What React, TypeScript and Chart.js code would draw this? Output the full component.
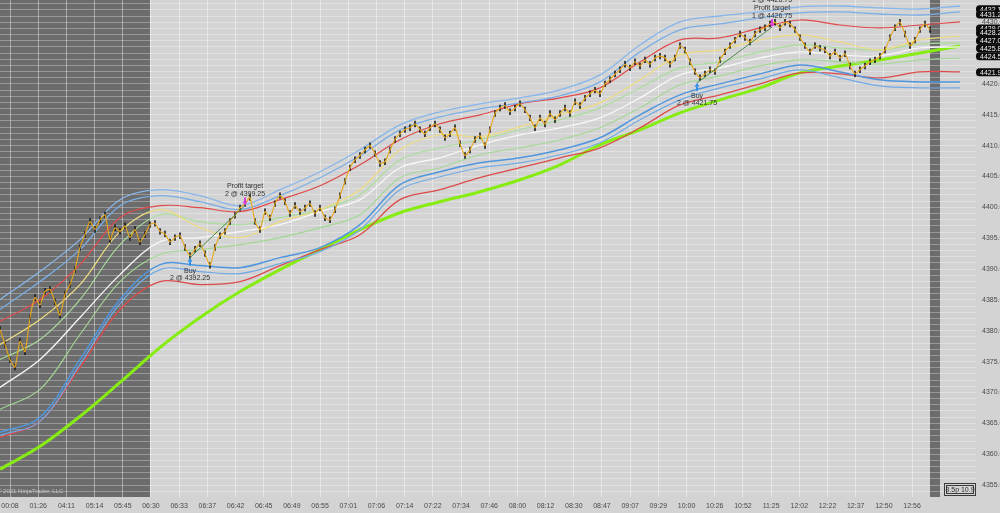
import React, { useEffect, useRef } from 'react';
import { Chart, registerables } from 'chart.js';
Chart.register(...registerables);

const TIME_LABELS = ['00:08','01:26','04:11','05:14','05:45','06:30','06:33','06:37','06:42','06:45','06:49','06:55','07:01','07:06','07:14','07:22','07:34','07:46','08:00','08:12','08:30','08:47','09:07','09:29','10:00','10:26','10:52','11:25','12:02','12:22','12:37','12:50','12:56'];
const FIRST_TICK_BAR = 2;
const BARS_PER_TICK = 5.638;

const PRICE = [
  4380.2,4377.8,4375.3,4374.1,4378.3,4376.6,4382.1,4385.4,4384.2,4386.4,
  4386.7,4384.7,4382.5,4385.9,4387.5,4389.9,4393.5,4395.6,4397.7,4396.4,
  4398.0,4398.8,4394.8,4396.7,4396.1,4397.0,4395.1,4396.4,4394.4,4395.6,
  4397.2,4397.4,4396.1,4395.7,4394.4,4395.1,4395.4,4393.5,4392.2,4393.2,
  4394.1,4392.5,4390.6,4393.5,4395.4,4396.1,4397.7,4398.7,4399.9,4400.6,
  4401.6,4397.7,4396.4,4399.3,4398.3,4400.6,4401.9,4400.9,4399.0,4400.3,
  4399.3,4399.9,4400.6,4399.0,4399.9,4398.3,4398.0,4399.6,4401.9,4404.2,
  4406.4,4407.7,4408.4,4409.3,4410.0,4408.7,4407.1,4407.4,4409.3,4411.0,
  4411.9,4412.6,4412.9,4413.5,4412.6,4411.9,4412.9,4413.5,4412.6,4411.3,
  4411.9,4412.9,4410.3,4408.4,4409.3,4411.0,4411.6,4410.0,4412.6,4415.2,
  4416.1,4416.5,4415.5,4416.1,4416.8,4415.8,4414.5,4412.9,4414.5,4413.5,
  4415.2,4414.2,4415.2,4416.1,4415.2,4417.1,4416.5,4417.7,4418.4,4419.0,
  4418.4,4420.0,4420.7,4421.6,4422.3,4423.2,4422.6,4423.6,4422.9,4423.9,
  4423.2,4424.2,4424.5,4424.2,4423.2,4424.2,4426.2,4425.5,4423.6,4422.0,
  4421.0,4421.6,4422.3,4422.0,4423.9,4425.2,4426.2,4427.1,4428.1,4427.5,
  4426.8,4428.1,4428.8,4429.1,4429.7,4430.0,4429.1,4430.0,4429.7,4428.8,
  4427.5,4426.2,4425.2,4426.2,4425.8,4425.5,4424.5,4425.2,4424.2,4424.9,
  4422.9,4421.6,4422.3,4422.9,4423.6,4423.9,4424.5,4425.5,4427.5,4429.1,
  4430.0,4428.1,4426.2,4427.1,4428.8,4429.7,4428.8
];

const BAND_STEP = 8;
const UPPER_BLUE_1 = [4385.06,4389.59,4394.77,4401.24,4402.86,4401.89,4400.27,4402.86,4405.77,4409.33,4413.37,4415.48,4416.77,4417.74,4419.04,4421.46,4426.32,4430.04,4431.01,4431.66,4432.47,4432.63,4432.31,4432.14,4432.63];
const UPPER_BLUE_2 = [4383.44,4387.97,4393.15,4400.27,4401.89,4400.91,4399.62,4401.89,4404.80,4408.36,4412.56,4414.67,4415.96,4416.93,4418.07,4420.33,4425.19,4428.75,4429.72,4430.69,4431.50,4431.66,4431.33,4431.17,4431.66];
const UPPER_RED = [4381.50,4385.06,4390.72,4398.33,4400.27,4399.94,4399.30,4401.24,4403.50,4406.90,4410.95,4413.54,4414.99,4416.77,4417.74,4419.36,4423.57,4427.13,4427.45,4429.07,4430.36,4429.55,4429.07,4429.55,4430.04];
const YELLOW_MA = [4377.78,4381.82,4387.48,4396.06,4399.62,4396.71,4395.09,4397.68,4399.62,4402.86,4409.33,4411.76,4411.43,4413.05,4414.99,4416.93,4420.66,4424.70,4425.51,4427.13,4427.94,4426.80,4425.51,4427.13,4427.77];
const UPPER_GREEN = [4375.35,4378.58,4385.06,4393.96,4398.81,4397.68,4397.19,4398.33,4399.62,4402.05,4407.71,4409.65,4410.95,4412.56,4414.18,4416.12,4419.36,4422.60,4423.57,4425.19,4426.32,4425.83,4425.51,4426.48,4426.64];
const WHITE_MA = [4370.82,4375.35,4382.14,4389.10,4394.44,4395.09,4396.06,4397.19,4399.30,4401.24,4406.42,4408.03,4410.14,4411.76,4412.89,4414.51,4417.74,4421.46,4422.60,4424.21,4425.19,4424.70,4424.54,4425.83,4425.99];
const LOWER_GREEN = [4367.26,4370.49,4379.39,4387.97,4392.34,4393.15,4393.96,4395.09,4396.71,4398.81,4404.80,4406.42,4408.52,4409.65,4410.95,4412.89,4416.12,4419.85,4421.30,4422.92,4423.89,4423.57,4423.24,4423.89,4424.21];
const LOWER_BLUE_1 = [4363.54,4365.96,4375.35,4385.06,4390.72,4390.56,4390.23,4391.85,4393.47,4397.19,4403.67,4405.77,4407.22,4408.03,4409.33,4411.27,4414.99,4418.23,4420.01,4421.63,4423.08,4421.95,4420.66,4420.33,4420.33];
const LOWER_BLUE_2 = [4363.05,4365.32,4374.54,4384.41,4389.91,4389.59,4389.26,4390.88,4392.82,4396.38,4402.86,4404.96,4406.42,4407.22,4408.52,4410.46,4414.18,4417.42,4419.36,4420.82,4422.28,4420.98,4419.68,4419.36,4419.36];
const LOWER_RED = [4362.73,4365.32,4374.05,4383.44,4387.97,4387.48,4387.97,4390.56,4393.15,4395.57,4401.24,4402.86,4404.80,4406.42,4408.03,4409.65,4412.89,4416.59,4418.23,4420.01,4421.79,4421.63,4420.98,4421.95,4421.95];
const SLOW_MA = [4357.55,4361.27,4366.13,4371.63,4377.29,4382.14,4386.35,4389.91,4393.15,4396.38,4399.13,4400.91,4402.53,4404.47,4406.90,4410.14,4412.56,4415.32,4417.42,4419.36,4421.79,4422.92,4423.89,4425.02,4426.16];

const SESSION_GAPS = [[0, 30], [186, 188]];
const X_MAX = 195.2;
const Y_MIN = 4353.06;
const Y_MAX = 4433.6;

const TRADE_BARS = [38, 49, 139.4, 154.4];
const TRADE_MARK_PRICES = [4391.85, 4400.3, 4420.17, 4429.2];
const TRADE_KINDS = ['buy', 'target', 'buy', 'target'];
const TRADE_TEXTS = [
  ['Buy', '2 @ 4392.25'],
  ['Profit target', '2 @ 4399.25'],
  ['Buy', '2 @ 4421.75'],
  ['1 @ 4426.75', 'Profit target', '1 @ 4426.75'],
];

const TAG_VALUES = [4432.10, 4431.25, 4429.00, 4428.25, 4427.00, 4425.80, 4424.50, 4421.90];

const FONT = '"Liberation Sans", Arial, sans-serif';

const bandData = (arr: number[]) => arr.map((v, i) => ({ x: i * BAND_STEP, y: v }));

function line(label: string, arr: number[], color: string, width: number, order: number) {
  return {
    label,
    data: bandData(arr),
    borderColor: color,
    borderWidth: width,
    pointRadius: 0,
    tension: 0.35,
    fill: false,
    order,
  };
}

const bgPlugin = {
  id: 'bgPlugin',
  beforeDraw(chart: any) {
    const { ctx, chartArea: ca, scales } = chart;
    const x = scales.x;
    ctx.save();
    ctx.fillStyle = '#d3d3d3';
    ctx.fillRect(0, 0, chart.width, chart.height);
    ctx.fillStyle = '#6c6c6c';
    SESSION_GAPS.forEach(([a, b]) => {
      const x0 = Math.max(ca.left, x.getPixelForValue(a));
      const x1 = Math.min(ca.right, x.getPixelForValue(b));
      ctx.fillRect(x0, ca.top, x1 - x0, ca.bottom - ca.top);
    });
    ctx.restore();
  },
};

const annotationPlugin = {
  id: 'annotationPlugin',
  afterDatasetsDraw(chart: any) {
    const { ctx, scales } = chart;
    const x = scales.x, y = scales.y;
    ctx.save();
    ctx.strokeStyle = '#4f8a4f';
    ctx.lineWidth = 1;
    for (let i = 0; i + 1 < TRADE_BARS.length; i += 2) {
      ctx.beginPath();
      ctx.moveTo(x.getPixelForValue(TRADE_BARS[i]), y.getPixelForValue(TRADE_MARK_PRICES[i]));
      ctx.lineTo(x.getPixelForValue(TRADE_BARS[i + 1]), y.getPixelForValue(TRADE_MARK_PRICES[i + 1]));
      ctx.stroke();
    }
    ctx.font = `7px ${FONT}`;
    ctx.textAlign = 'center';
    ctx.textBaseline = 'middle';
    TRADE_BARS.forEach((bar, i) => {
      const px = x.getPixelForValue(bar);
      const py = y.getPixelForValue(TRADE_MARK_PRICES[i]);
      const kind = TRADE_KINDS[i];
      const texts = TRADE_TEXTS[i];
      if (kind === 'buy') {
        ctx.fillStyle = '#2f8fe8';
        ctx.beginPath();
        ctx.moveTo(px, py);
        ctx.lineTo(px - 2.5, py + 4);
        ctx.lineTo(px + 2.5, py + 4);
        ctx.closePath();
        ctx.fill();
        ctx.fillRect(px - 1, py + 4, 2, 4);
        ctx.fillStyle = '#333';
        texts.forEach((t, k) => ctx.fillText(t, px, py + 13 + k * 7.5));
      } else {
        ctx.fillStyle = '#e23ce0';
        ctx.beginPath();
        ctx.moveTo(px, py);
        ctx.lineTo(px - 2.5, py - 4);
        ctx.lineTo(px + 2.5, py - 4);
        ctx.closePath();
        ctx.fill();
        ctx.fillRect(px - 1, py - 8, 2, 4);
        ctx.fillStyle = '#333';
        const n = texts.length;
        texts.forEach((t, k) => ctx.fillText(t, px, py - 11 - (n - 1 - k) * 8));
      }
    });
    ctx.restore();
  },
  afterDraw(chart: any) {
    const { ctx, scales, chartArea: ca } = chart;
    const y = scales.y;
    ctx.save();
    ctx.font = `7px ${FONT}`;
    ctx.textBaseline = 'middle';
    ctx.textAlign = 'left';
    TAG_VALUES.forEach((v) => {
      const py = y.getPixelForValue(v);
      ctx.fillStyle = '#0d0d0d';
      ctx.beginPath();
      (ctx as any).roundRect(ca.right, py - 4, 40, 8, 3.5);
      ctx.fill();
      ctx.fillStyle = '#f0f0f0';
      ctx.fillText(v.toFixed(2), ca.right + 4, py + 0.5);
    });
    ctx.fillStyle = '#c4c4c4';
    ctx.font = `6px ${FONT}`;
    ctx.fillText('© 2021 NinjaTrader, LLC', ca.left - 3, ca.bottom - 6);
    ctx.strokeStyle = '#3a3a3a';
    ctx.lineWidth = 1;
    ctx.strokeRect(944.5, ca.bottom - 13.5, 31, 12);
    ctx.strokeRect(946.5, ca.bottom - 11.5, 27, 8);
    ctx.fillStyle = '#333';
    ctx.font = `7px ${FONT}`;
    ctx.textAlign = 'center';
    ctx.fillText('8.5p 10.9', 960, ca.bottom - 7);
    ctx.restore();
  },
};

export default function App() {
  const ref = useRef<HTMLCanvasElement>(null);
  useEffect(() => {
    document.body.style.margin = '0';
    const canvas = ref.current;
    if (!canvas) return;
    const priceData = PRICE.map((v, i) => ({ x: i, y: v }));
    const chart = new Chart(canvas, {
      type: 'line',
      data: {
        datasets: [
          {
            label: 'Fast',
            data: priceData,
            borderColor: '#e8a81a',
            borderWidth: 1.1,
            pointRadius: 0,
            tension: 0.2,
            order: 0,
          },
          {
            label: 'Price',
            data: priceData,
            showLine: false,
            pointStyle: 'line',
            pointRotation: 90,
            pointRadius: 3.2,
            pointBorderWidth: 1.6,
            pointBorderColor: '#1c1c1c',
            pointBackgroundColor: '#1c1c1c',
            order: 1,
          },
          line('Upper blue 1', UPPER_BLUE_1, '#86b6ea', 1.3, 2),
          line('Upper blue 2', UPPER_BLUE_2, '#7aaee6', 1.3, 3),
          line('Upper red', UPPER_RED, '#e04a4a', 1.2, 4),
          line('Yellow', YELLOW_MA, '#eedc80', 1.2, 5),
          line('Upper green', UPPER_GREEN, '#a9de9a', 1.1, 6),
          line('White', WHITE_MA, '#f7f7f7', 1.3, 7),
          line('Lower green', LOWER_GREEN, '#a3d894', 1.1, 8),
          line('Lower blue 1', LOWER_BLUE_1, '#5096df', 1.5, 9),
          line('Lower blue 2', LOWER_BLUE_2, '#72aae6', 1.2, 10),
          line('Lower red', LOWER_RED, '#dc4a4a', 1.3, 11),
          line('Slow', SLOW_MA, '#86ec12', 3, 12),
        ] as any,
      },
      options: {
        animation: false,
        responsive: false,
        devicePixelRatio: 1,
        events: [],
        layout: { padding: 0, autoPadding: false },
        plugins: { legend: { display: false }, tooltip: { enabled: false } },
        scales: {
          x: {
            type: 'linear',
            min: 0,
            max: X_MAX,
            border: { display: false },
            grid: { color: 'rgba(255,255,255,0.42)', lineWidth: 1, drawTicks: false },
            afterBuildTicks: (scale: any) => {
              scale.ticks = TIME_LABELS.map((_, i) => ({ value: FIRST_TICK_BAR + i * BARS_PER_TICK }));
            },
            afterFit: (scale: any) => {
              scale.height = 16;
              scale.paddingLeft = 0;
              scale.paddingRight = 0;
            },
            ticks: {
              autoSkip: false,
              maxRotation: 0,
              padding: 5,
              color: '#4a4a4a',
              font: { size: 7, family: FONT },
              callback: (_v: any, i: number) => TIME_LABELS[i],
            },
          },
          y: {
            type: 'linear',
            position: 'right',
            min: Y_MIN,
            max: Y_MAX,
            border: { display: false },
            grid: { color: 'rgba(255,255,255,0.3)', lineWidth: 1, drawTicks: false },
            afterBuildTicks: (scale: any) => {
              const t = [];
              for (let v = Math.ceil(Y_MIN); v <= Math.floor(Y_MAX); v++) t.push({ value: v });
              scale.ticks = t;
            },
            afterFit: (scale: any) => {
              scale.width = 24;
              scale.paddingTop = 0;
              scale.paddingBottom = 0;
            },
            ticks: {
              autoSkip: false,
              padding: 6,
              color: '#4a4a4a',
              font: { size: 7, family: FONT },
              callback: (v: any) => (Number(v) % 5 === 0 ? Number(v).toFixed(2) : ''),
            },
          },
        },
      },
      plugins: [bgPlugin, annotationPlugin],
    });
    return () => chart.destroy();
  }, []);
  return (
    <div style={{ position: 'fixed', left: 0, top: 0, width: 1000, height: 513 }}>
      <canvas ref={ref} width={1000} height={513} style={{ width: 1000, height: 513, display: 'block' }} />
    </div>
  );
}
